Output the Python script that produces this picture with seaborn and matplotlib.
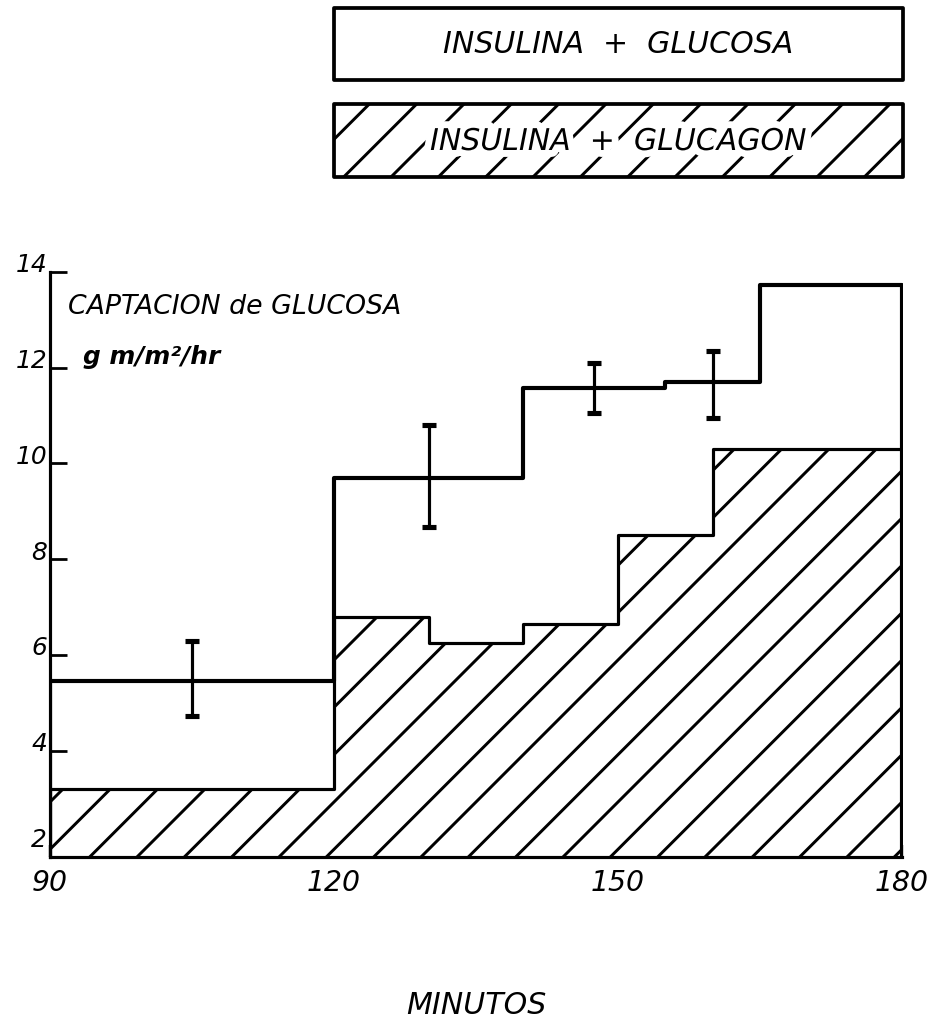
import numpy as np
import matplotlib
matplotlib.use("Agg")
import matplotlib.pyplot as plt
from matplotlib.patches import Rectangle
import matplotlib.patheffects as pe
import matplotlib.transforms as mtransforms
import seaborn as sns

# Glucose uptake (g/m²/hr) per time interval, in minutes
glucosa_edges = [90, 120, 140, 155, 165, 180]
glucosa_values = [5.45, 9.70, 11.58, 11.71, 13.73]
glucagon_edges = [90, 120, 130, 140, 150, 160, 180]
glucagon_values = [3.20, 6.80, 6.25, 6.65, 8.50, 10.30]

# Mean and spread at the sampled times (insulina + glucosa)
err_x = [105, 130, 147.5, 160]
err_mean = [5.45, 9.70, 11.58, 11.71]
err_low = [4.72, 8.68, 11.06, 10.95]
err_high = [6.29, 10.81, 12.10, 12.35]

x_ticks = [90, 120, 150, 180]
x_ticklabels = ["90", "120", "150", "180"]
y_ticks = [2, 4, 6, 8, 10, 12, 14]
y_ticklabels = ["2", "4", "6", "8", "10", "12", "14"]

legend_labels = ["INSULINA  +  GLUCOSA", "INSULINA  +  GLUCAGON"]
ylabel_lines = ["CAPTACION de GLUCOSA", "g m/m²/hr"]
xlabel = "MINUTOS"

DPI = 284
W, H = 936, 1034

sns.set_theme(style="white")
plt.rcParams["font.family"] = ["DejaVu Sans"]
plt.rcParams["hatch.linewidth"] = 0.75
plt.rcParams["hatch.color"] = "black"

fig = plt.figure(figsize=(W / DPI, H / DPI), dpi=DPI, facecolor="white")
ax = fig.add_axes([50 / W, 1 - 857 / H, (902 - 50) / W, (857 - 272) / H])
ax.set_facecolor("white")


def bin_centers(edges):
    e = np.asarray(edges, dtype=float)
    return (e[:-1] + e[1:]) / 2


# hatched area: insulina + glucagon
sns.histplot(x=bin_centers(glucagon_edges), weights=glucagon_values,
             bins=glucagon_edges, element="step", fill=True, alpha=1,
             color="black", facecolor="white", edgecolor="black", hatch="//",
             linewidth=0.8, ax=ax)

# outlined steps: insulina + glucosa
sns.histplot(x=bin_centers(glucosa_edges), weights=glucosa_values,
             bins=glucosa_edges, element="step", fill=True, alpha=1,
             color="black", facecolor=(1, 1, 1, 0), edgecolor="black",
             linewidth=1.05, ax=ax)

mean = np.asarray(err_mean)
yerr = [mean - np.asarray(err_low), np.asarray(err_high) - mean]
ax.errorbar(err_x, err_mean, yerr=yerr, fmt="none", ecolor="black",
            elinewidth=0.8, capsize=1.9, capthick=1.3, zorder=5)

y_bottom = 1.78
ax.set_xlim(90, 180)
ax.set_ylim(y_bottom, 14)

for side in ["top", "right"]:
    ax.spines[side].set_visible(False)
for side in ["left", "bottom"]:
    ax.spines[side].set_color("black")
    ax.spines[side].set_linewidth(0.8)

ax.set_xticks(x_ticks)
ax.set_xticklabels(x_ticklabels, fontstyle="italic", fontsize=7.2)
ax.set_yticks(y_ticks)
ax.set_yticklabels(y_ticklabels, fontstyle="italic", fontsize=6.3)
ax.tick_params(axis="x", direction="in", length=3, width=0.6, pad=3,
               colors="black", bottom=True)
ax.tick_params(axis="y", direction="in", length=4.3, width=0.7, pad=0.7,
               colors="black", left=True)

shift = mtransforms.ScaledTranslation(0, 9 / DPI, fig.dpi_scale_trans)
for lbl in ax.get_yticklabels():
    lbl.set_transform(lbl.get_transform() + shift)

ax.set_ylabel("")
ax.set_xlabel(xlabel, fontstyle="italic", fontsize=7.6, labelpad=24,
              color="black")

ax.text(91.9, 13.27, ylabel_lines[0], fontstyle="italic", fontsize=6.8,
        ha="left", va="center", color="black")
ax.text(93.5, 12.22, ylabel_lines[1], fontstyle="italic", fontsize=6.3,
        fontweight="bold", ha="left", va="center", color="black")

# legend boxes
boxes = [(8, 80, None), (104, 177, "//")]
for (top, bottom, hatch), label in zip(boxes, legend_labels):
    x0, x1 = 334 / W, 903 / W
    y0, y1 = 1 - bottom / H, 1 - top / H
    rect = Rectangle((x0, y0), x1 - x0, y1 - y0, transform=fig.transFigure,
                     facecolor="white", edgecolor="black", linewidth=0.95,
                     hatch=hatch, joinstyle="round")
    fig.patches.append(rect)
    txt = fig.text((x0 + x1) / 2, (y0 + y1) / 2 - 1 / H, label,
                   fontstyle="italic", fontsize=7.6, ha="center", va="center",
                   color="black")
    if hatch:
        txt.set_path_effects([pe.withStroke(linewidth=3.5, foreground="white")])

fig.savefig("out.png", dpi=DPI, facecolor="white")
